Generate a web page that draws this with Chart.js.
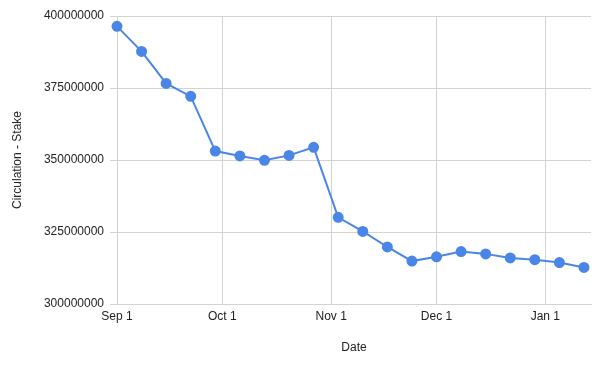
<!DOCTYPE html>
<html>
<head>
<meta charset="utf-8">
<script src="https://cdn.jsdelivr.net/npm/chart.js@4/dist/chart.umd.min.js"></script>
<style>
  html, body { margin: 0; padding: 0; background: #fff; }
  #wrap { width: 600px; height: 366px; }
</style>
</head>
<body>
<div id="wrap"><canvas id="stake"></canvas></div>
<script>
// weekly readings
const dates = [
  "2019-09-01", "2019-09-08", "2019-09-15", "2019-09-22", "2019-09-29",
  "2019-10-06", "2019-10-13", "2019-10-20", "2019-10-27", "2019-11-03",
  "2019-11-10", "2019-11-17", "2019-11-24", "2019-12-01", "2019-12-08",
  "2019-12-15", "2019-12-22", "2019-12-29", "2020-01-05", "2020-01-12"
];
const stake = [
  396400000, 387700000, 376600000, 372100000, 353100000,
  351400000, 349900000, 351600000, 354400000, 330100000,
  325200000, 319800000, 314900000, 316400000, 318200000,
  317400000, 316000000, 315400000, 314400000, 312700000
];
const monthTicks = ["2019-09-01", "2019-10-01", "2019-11-01", "2019-12-01", "2020-01-01"];
const monthNames = ["Jan", "Feb", "Mar", "Apr", "May", "Jun", "Jul", "Aug", "Sep", "Oct", "Nov", "Dec"];
const axisStart = "2019-09-01";
const axisEnd = "2020-01-14";

const DAY = 86400000;
function dayNum(s) {
  return Math.round(Date.parse(s + "T00:00:00Z") / DAY);
}
function dayLabel(n) {
  const d = new Date(n * DAY);
  return monthNames[d.getUTCMonth()] + " " + d.getUTCDate();
}

const points = dates.map((d, i) => ({ x: dayNum(d), y: stake[i] }));
const textColor = "#222";
const gridColor = "#d3d3d3";
const font = { family: "Liberation Sans, Arial, sans-serif", size: 12 };

new Chart(document.getElementById("stake").getContext("2d"), {
  type: "line",
  data: {
    datasets: [{
      data: points,
      borderColor: "#4a86e8",
      backgroundColor: "#4a86e8",
      borderWidth: 2,
      pointRadius: 4.5,
      pointHoverRadius: 5,
      tension: 0,
      clip: false
    }]
  },
  options: {
    responsive: true,
    maintainAspectRatio: false,
    animation: false,
    layout: { padding: { top: 16, right: 9, bottom: 0, left: 0 } },
    plugins: { legend: { display: false }, tooltip: { enabled: false } },
    scales: {
      x: {
        type: "linear",
        min: dayNum(axisStart),
        max: dayNum(axisEnd),
        afterBuildTicks: (scale) => {
          scale.ticks = monthTicks.map(m => ({ value: dayNum(m) }));
        },
        afterFit: (scale) => { scale.height = 62; },
        ticks: {
          color: textColor,
          font: font,
          padding: 5,
          maxRotation: 0,
          autoSkip: false,
          callback: (v) => dayLabel(v)
        },
        grid: { color: gridColor, drawTicks: false },
        border: { color: gridColor },
        title: {
          display: true,
          text: "Date",
          color: textColor,
          font: font,
          padding: { top: 0, bottom: 11 }
        }
      },
      y: {
        min: 300000000,
        max: 400000000,
        afterFit: (scale) => { scale.width = 117; },
        ticks: {
          stepSize: 25000000,
          color: textColor,
          font: font,
          padding: 6,
          callback: (v) => String(v)
        },
        grid: { color: gridColor, tickLength: 7 },
        border: { color: gridColor },
        title: {
          display: true,
          text: "Circulation - Stake",
          color: textColor,
          font: font,
          padding: { top: 10, bottom: 0 }
        }
      }
    }
  }
});
</script>
</body>
</html>
